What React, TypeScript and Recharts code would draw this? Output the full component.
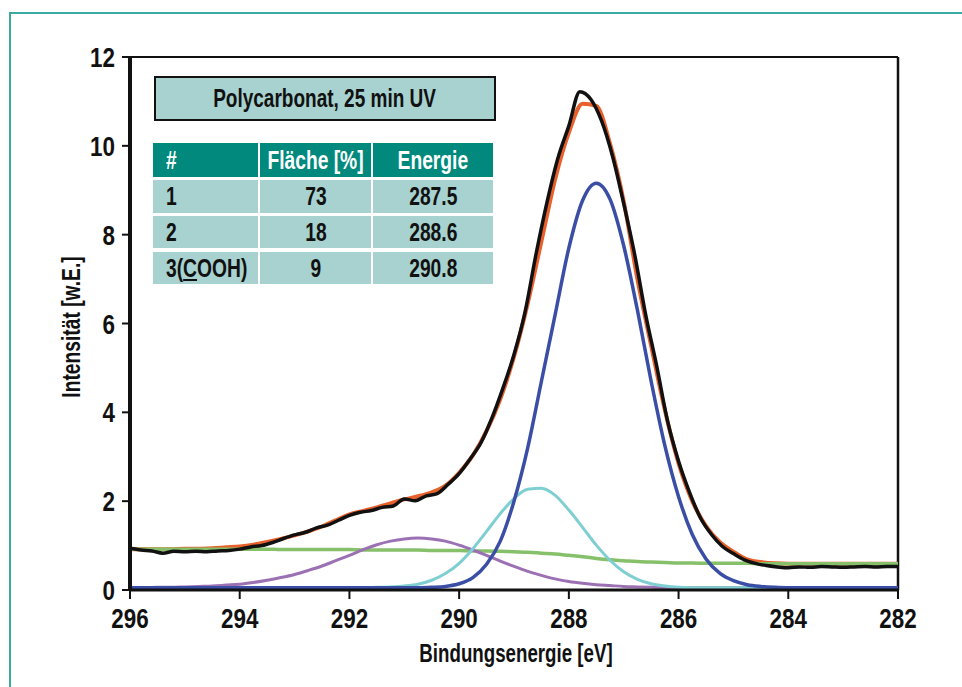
import React from "react";
import { LineChart, Line, XAxis, YAxis, ReferenceLine } from "recharts";

const FONT = "'Liberation Sans Narrow', 'Arial Narrow', 'Liberation Sans', sans-serif";

// Fit-Raster (eV), absteigend wie im Diagramm
const energieFit = [
  296, 295.75, 295.5, 295.25, 295, 294.75, 294.5, 294.25,
  294, 293.75, 293.5, 293.25, 293, 292.75, 292.5, 292.25,
  292, 291.75, 291.5, 291.25, 291, 290.75, 290.5, 290.25,
  290, 289.75, 289.5, 289.25, 289, 288.75, 288.5, 288.25,
  288, 287.75, 287.5, 287.25, 287, 286.75, 286.5, 286.25,
  286, 285.75, 285.5, 285.25, 285, 284.75, 284.5, 284.25,
  284, 283.75, 283.5, 283.25, 283, 282.75, 282.5, 282.25,
  282,
];

const untergrund = [
  0.92, 0.92, 0.92, 0.92, 0.92, 0.92, 0.92, 0.92,
  0.92, 0.92, 0.92, 0.91, 0.91, 0.91, 0.91, 0.91,
  0.91, 0.9, 0.9, 0.9, 0.9, 0.9, 0.89, 0.89,
  0.89, 0.88, 0.88, 0.87, 0.86, 0.85, 0.83, 0.81,
  0.78, 0.75, 0.71, 0.68, 0.66, 0.64, 0.63, 0.62,
  0.61, 0.61, 0.6, 0.6, 0.6, 0.6, 0.59, 0.59,
  0.59, 0.59, 0.59, 0.59, 0.59, 0.59, 0.59, 0.59,
  0.59,
];

const peak1 = [
  0.05, 0.05, 0.05, 0.05, 0.05, 0.05, 0.05, 0.05,
  0.05, 0.05, 0.05, 0.05, 0.05, 0.05, 0.05, 0.05,
  0.05, 0.05, 0.05, 0.05, 0.05, 0.05, 0.06, 0.08,
  0.14, 0.28, 0.58, 1.1, 2.0, 3.2, 4.7, 6.2,
  7.7, 8.77, 9.16, 8.8, 7.75, 6.3, 4.7, 3.25,
  2.1, 1.25, 0.7, 0.38, 0.21, 0.12, 0.08, 0.06,
  0.05, 0.05, 0.05, 0.05, 0.05, 0.05, 0.05, 0.05,
  0.05,
];

const peak2 = [
  0.05, 0.05, 0.05, 0.05, 0.05, 0.05, 0.05, 0.05,
  0.05, 0.05, 0.05, 0.05, 0.05, 0.05, 0.05, 0.05,
  0.05, 0.05, 0.06, 0.07, 0.09, 0.13, 0.22, 0.37,
  0.6, 0.93, 1.32, 1.72, 2.06, 2.27, 2.29, 2.13,
  1.8, 1.41, 1.01, 0.67, 0.41, 0.24, 0.14, 0.09,
  0.06, 0.05, 0.05, 0.05, 0.05, 0.05, 0.05, 0.05,
  0.05, 0.05, 0.05, 0.05, 0.05, 0.05, 0.05, 0.05,
  0.05,
];

const peak3 = [
  0.05, 0.05, 0.06, 0.06, 0.07, 0.08, 0.09, 0.11,
  0.13, 0.17, 0.22, 0.28, 0.35, 0.44, 0.54, 0.66,
  0.78, 0.91, 1.02, 1.1, 1.15, 1.17, 1.15, 1.1,
  1.01, 0.9, 0.78, 0.65, 0.53, 0.42, 0.33, 0.25,
  0.19, 0.15, 0.12, 0.1, 0.08, 0.07, 0.06, 0.05,
  0.05, 0.05, 0.05, 0.05, 0.05, 0.05, 0.05, 0.05,
  0.05, 0.05, 0.05, 0.05, 0.05, 0.05, 0.05, 0.05,
  0.05,
];

const summe = [
  0.92, 0.92, 0.92, 0.92, 0.93, 0.93, 0.94, 0.96,
  0.98, 1.02, 1.08, 1.15, 1.23, 1.32, 1.43, 1.57,
  1.7, 1.78, 1.86, 1.95, 2.04, 2.11, 2.2, 2.35,
  2.64, 3.03, 3.58, 4.3, 5.25, 6.45, 7.85, 9.25,
  10.3, 10.95, 10.9, 10.05, 8.75, 7.0, 5.5, 4.05,
  2.85, 2.0, 1.44, 1.08, 0.86, 0.69, 0.63, 0.6,
  0.59, 0.59, 0.59, 0.59, 0.59, 0.59, 0.59, 0.59,
  0.59,
];

// Messdaten (eV-Raster 0.2)
const energieMess = [
  296, 295.8, 295.6, 295.4, 295.2, 295, 294.8, 294.6, 294.4, 294.2,
  294, 293.8, 293.6, 293.4, 293.2, 293, 292.8, 292.6, 292.4, 292.2,
  292, 291.8, 291.6, 291.4, 291.2, 291, 290.8, 290.6, 290.4, 290.2,
  290, 289.8, 289.6, 289.4, 289.2, 289, 288.8, 288.6, 288.4, 288.2,
  288, 287.8, 287.6, 287.4, 287.2, 287, 286.8, 286.6, 286.4, 286.2,
  286, 285.8, 285.6, 285.4, 285.2, 285, 284.8, 284.6, 284.4, 284.2,
  284, 283.8, 283.6, 283.4, 283.2, 283, 282.8, 282.6, 282.4, 282.2,
  282,
];

const messung = [
  0.94, 0.9, 0.88, 0.83, 0.87, 0.86, 0.87, 0.86, 0.88, 0.89,
  0.92, 0.97, 1.0, 1.07, 1.16, 1.24, 1.3, 1.4, 1.46, 1.57,
  1.68, 1.75, 1.79, 1.86, 1.89, 2.05, 2.01, 2.12, 2.17, 2.38,
  2.62, 2.95, 3.32, 3.88, 4.55, 5.3, 6.25, 7.55, 8.72, 9.72,
  10.45, 11.22, 11.05, 10.55, 9.75, 8.7, 7.55, 6.2, 5.05, 3.8,
  2.9, 2.2, 1.62, 1.25, 0.98, 0.82, 0.68, 0.6, 0.55, 0.52,
  0.5, 0.52, 0.51, 0.53, 0.52, 0.51, 0.52, 0.53, 0.52, 0.53,
  0.53,
];

const xTicks = [296, 294, 292, 290, 288, 286, 284, 282];
const yTicks = [0, 2, 4, 6, 8, 10, 12];

const tabKopf = ["#", "Fläche [%]", "Energie"];
const tabNr = ["1", "2", "3(COOH)"];
const tabFlaeche = ["73", "18", "9"];
const tabEnergie = ["287.5", "288.6", "290.8"];

const fitRows = energieFit.map((e, i) => ({
  e,
  bg: untergrund[i],
  p1: peak1[i],
  p2: peak2[i],
  p3: peak3[i],
  sum: summe[i],
}));
const messRows = energieMess.map((e, i) => ({ e, y: messung[i] }));

const XTick = (props: any) => (
  <text
    transform={`translate(${props.x}, 628) scale(0.8, 1)`}
    textAnchor="middle"
    fontFamily={FONT}
    fontWeight="bold"
    fontSize={28}
    fill="#111"
  >
    {props.payload.value}
  </text>
);

const YTick = (props: any) => (
  <text
    transform={`translate(115, ${props.y + 10}) scale(0.8, 1)`}
    textAnchor="end"
    fontFamily={FONT}
    fontWeight="bold"
    fontSize={28}
    fill="#111"
  >
    {props.payload.value}
  </text>
);

const LIGHT = "#a7d2cf";
const DARK = "#00897c";

function Cell({ x, y, w, h, bg, color, align, children }: any) {
  return (
    <div
      style={{
        position: "absolute",
        left: x,
        top: y,
        width: w,
        height: h,
        background: bg,
        color,
        display: "flex",
        alignItems: "center",
        justifyContent: align === "left" ? "flex-start" : "center",
        paddingLeft: align === "left" ? 13 : 0,
        boxSizing: "border-box",
        fontFamily: FONT,
        fontWeight: "bold",
        fontSize: 25,
        lineHeight: 1,
        whiteSpace: "nowrap",
      }}
    >
      <span
        style={{
          display: "inline-block",
          transform: "scaleX(0.77)",
          transformOrigin: align === "left" ? "left center" : "center center",
        }}
      >
        {children}
      </span>
    </div>
  );
}

export default function App() {
  const cols = [
    { x: 153, w: 105 },
    { x: 260, w: 111 },
    { x: 373, w: 120 },
  ];
  const rows = [
    { y: 180, h: 33 },
    { y: 216, h: 32 },
    { y: 252, h: 32 },
  ];
  return (
    <div style={{ position: "absolute", left: 0, top: 0, width: 962, height: 687, background: "#fff", overflow: "hidden" }}>
      <div
        style={{
          position: "absolute",
          left: 9,
          top: 12,
          width: 1000,
          height: 800,
          borderLeft: "2px solid #3aa99f",
          borderTop: "2px solid #3aa99f",
        }}
      />
      <LineChart width={962} height={687} margin={{ top: 57, right: 64, bottom: 67, left: 70 }}>
        <XAxis
          dataKey="e"
          type="number"
          domain={[282, 296]}
          reversed
          ticks={xTicks}
          interval={0}
          height={30}
          axisLine={{ stroke: "#111", strokeWidth: 3 }}
          tickLine={{ stroke: "#111", strokeWidth: 2 }}
          tickSize={9}
          tick={<XTick />}
          label={{
            content: () => (
              <text
                transform="translate(516, 662) scale(0.72, 1)"
                textAnchor="middle"
                fontFamily={FONT}
                fontWeight="bold"
                fontSize={26}
                fill="#111"
              >
                Bindungsenergie [eV]
              </text>
            ),
          }}
        />
        <YAxis
          type="number"
          domain={[0, 12]}
          ticks={yTicks}
          interval={0}
          width={60}
          axisLine={{ stroke: "#111", strokeWidth: 4 }}
          tickLine={{ stroke: "#111", strokeWidth: 2 }}
          tickSize={8}
          tick={<YTick />}
          label={{
            content: () => (
              <text
                transform="translate(80, 327) rotate(-90) scale(0.74, 1)"
                textAnchor="middle"
                fontFamily={FONT}
                fontWeight="bold"
                fontSize={26}
                fill="#111"
              >
                Intensität [w.E.]
              </text>
            ),
          }}
        />
        <ReferenceLine y={12} stroke="#111" strokeWidth={2} />
        <ReferenceLine x={282} stroke="#111" strokeWidth={2.5} />
        <Line data={fitRows} dataKey="sum" type="monotone" stroke="#e8602c" strokeWidth={4} dot={false} isAnimationActive={false} />
        <Line data={fitRows} dataKey="bg" type="monotone" stroke="#86c06a" strokeWidth={3.5} dot={false} isAnimationActive={false} />
        <Line data={fitRows} dataKey="p3" type="monotone" stroke="#9b71b4" strokeWidth={3} dot={false} isAnimationActive={false} />
        <Line data={fitRows} dataKey="p2" type="monotone" stroke="#7fcfd2" strokeWidth={3} dot={false} isAnimationActive={false} />
        <Line data={fitRows} dataKey="p1" type="monotone" stroke="#3a4ea6" strokeWidth={3.5} dot={false} isAnimationActive={false} />
        <Line data={messRows} dataKey="y" type="monotone" stroke="#111" strokeWidth={3.5} dot={false} isAnimationActive={false} />
      </LineChart>

      <div
        style={{
          position: "absolute",
          left: 154,
          top: 76,
          width: 342,
          height: 45,
          boxSizing: "border-box",
          border: "2px solid #111",
          background: LIGHT,
          display: "flex",
          alignItems: "center",
          justifyContent: "center",
          fontFamily: FONT,
          fontWeight: "bold",
          fontSize: 25,
          color: "#111",
          whiteSpace: "nowrap",
        }}
      >
        <span style={{ display: "inline-block", transform: "scaleX(0.76)" }}>Polycarbonat, 25 min UV</span>
      </div>

      {tabKopf.map((k, j) => (
        <Cell key={k} x={cols[j].x} y={143} w={cols[j].w} h={34} bg={DARK} color="#fff" align={j === 0 ? "left" : "center"}>
          {k}
        </Cell>
      ))}
      {rows.map((r, i) => (
        <React.Fragment key={i}>
          <Cell x={cols[0].x} y={r.y} w={cols[0].w} h={r.h} bg={LIGHT} color="#111" align="left">
            {tabNr[i].startsWith("3(") ? (
              <>
                3(<span style={{ textDecoration: "underline" }}>C</span>OOH)
              </>
            ) : (
              tabNr[i]
            )}
          </Cell>
          <Cell x={cols[1].x} y={r.y} w={cols[1].w} h={r.h} bg={LIGHT} color="#111">
            {tabFlaeche[i]}
          </Cell>
          <Cell x={cols[2].x} y={r.y} w={cols[2].w} h={r.h} bg={LIGHT} color="#111">
            {tabEnergie[i]}
          </Cell>
        </React.Fragment>
      ))}
    </div>
  );
}
